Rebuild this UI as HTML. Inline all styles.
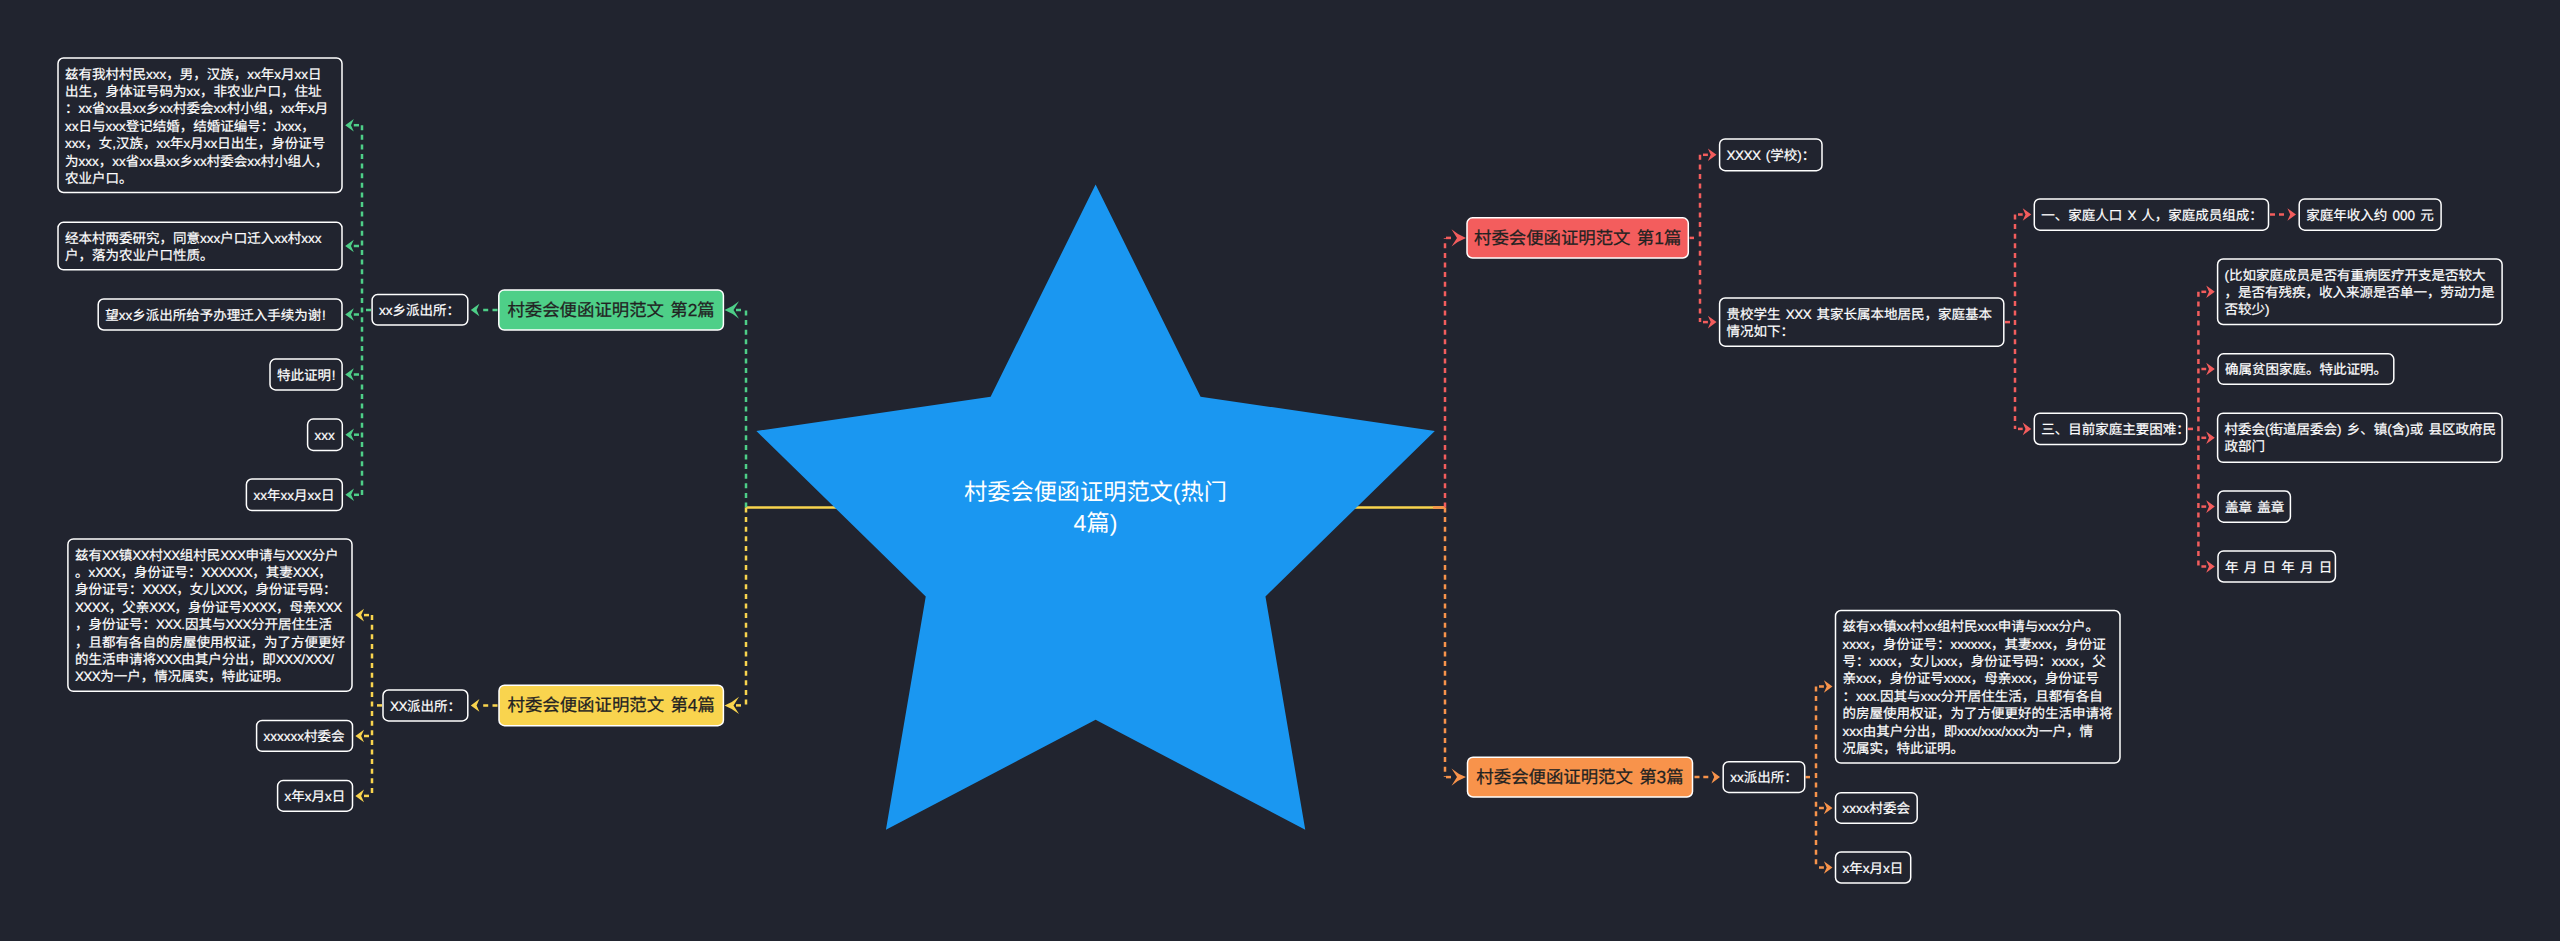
<!DOCTYPE html>
<html lang="zh-CN"><head><meta charset="utf-8"><title>村委会便函证明范文(热门4篇)</title>
<style>
html,body{margin:0;padding:0;}
body{width:2560px;height:941px;background:#21242f;position:relative;overflow:hidden;font-family:"Liberation Sans",sans-serif;text-rendering:geometricPrecision;}
svg.conn{position:absolute;left:0;top:0;}
.n{position:absolute;box-sizing:border-box;color:#fff;font-size:13.5px;line-height:17.4px;white-space:nowrap;word-spacing:1.5px;-webkit-text-stroke:0.2px #fff;}
.n.s{display:flex;align-items:center;padding-top:1.6px;}
.n.m{font-size:17.4px;color:#222;-webkit-text-stroke:0.25px #222;display:flex;align-items:center;justify-content:center;padding-top:1.2px;}
.n.t{}
.ex{margin-left:0.8px;}
.X{letter-spacing:-0.55px;}
.ctitle{position:absolute;left:895.5px;width:400px;top:477px;text-align:center;color:#fff;font-size:23.2px;line-height:31.3px;}
</style></head><body>
<svg class="conn" width="2560" height="941" viewBox="0 0 2560 941">

<path d="M746,507.5 L1445,507.5" fill="none" stroke="#f9d44e" stroke-width="2.5"/>
<path d="M1433,507.5 L1445,507.5" fill="none" stroke="#f8934b" stroke-width="2.5"/>
<path d="M746,507.5 L746,310" fill="none" stroke="#4ecf88" stroke-width="2.5" stroke-dasharray="5 4.6"/>
<path d="M741,310 L736,310" fill="none" stroke="#4ecf88" stroke-width="2.5"/>
<path d="M724.5,310 Q732.475,306.955 739.0,301.3 L733.5,310 L739.0,318.7 Q732.475,313.045 724.5,310 Z" fill="#4ecf88"/>
<path d="M746,507.5 L746,705.4" fill="none" stroke="#f9d44e" stroke-width="2.5" stroke-dasharray="5 4.6"/>
<path d="M741,705.4 L736,705.4" fill="none" stroke="#f9d44e" stroke-width="2.5"/>
<path d="M724.5,705.4 Q732.475,702.355 739.0,696.6999999999999 L733.5,705.4 L739.0,714.1 Q732.475,708.4449999999999 724.5,705.4 Z" fill="#f9d44e"/>
<path d="M1445,507.5 L1445,237.9" fill="none" stroke="#f35d5d" stroke-width="2.5" stroke-dasharray="5 4.6"/>
<path d="M1446,237.9 L1451,237.9" fill="none" stroke="#f35d5d" stroke-width="2.5"/>
<path d="M1466,237.9 Q1458.025,234.85500000000002 1451.5,229.20000000000002 L1457,237.9 L1451.5,246.6 Q1458.025,240.945 1466,237.9 Z" fill="#f35d5d"/>
<path d="M1445,507.5 L1445,777.1" fill="none" stroke="#f8934b" stroke-width="2.5" stroke-dasharray="5 4.6"/>
<path d="M1446,777.1 L1451,777.1" fill="none" stroke="#f8934b" stroke-width="2.5"/>
<path d="M1466,777.1 Q1458.025,774.0550000000001 1451.5,768.4 L1457,777.1 L1451.5,785.8000000000001 Q1458.025,780.145 1466,777.1 Z" fill="#f8934b"/>
<path d="M497.5,310 L482,310" fill="none" stroke="#4ecf88" stroke-width="2.5" stroke-dasharray="5 4.3"/>
<path d="M470.8,310 L479.40000000000003,303.7 L476.6,310 L479.40000000000003,316.3 Z" fill="#4ecf88"/>
<path d="M371,310 L366,310" fill="none" stroke="#4ecf88" stroke-width="2.5"/>
<path d="M362,125.2 L362,496" fill="none" stroke="#4ecf88" stroke-width="2.5" stroke-dasharray="5 4.6"/>
<path d="M359,125.2 L353.8,125.2" fill="none" stroke="#4ecf88" stroke-width="2.5"/>
<path d="M345.2,125.2 L353.8,118.9 L351.0,125.2 L353.8,131.5 Z" fill="#4ecf88"/>
<path d="M359,246 L353.8,246" fill="none" stroke="#4ecf88" stroke-width="2.5"/>
<path d="M345.2,246 L353.8,239.7 L351.0,246 L353.8,252.3 Z" fill="#4ecf88"/>
<path d="M359,314.5 L353.8,314.5" fill="none" stroke="#4ecf88" stroke-width="2.5"/>
<path d="M345.2,314.5 L353.8,308.2 L351.0,314.5 L353.8,320.8 Z" fill="#4ecf88"/>
<path d="M359,374.5 L353.8,374.5" fill="none" stroke="#4ecf88" stroke-width="2.5"/>
<path d="M345.2,374.5 L353.8,368.2 L351.0,374.5 L353.8,380.8 Z" fill="#4ecf88"/>
<path d="M359,434.7 L354.0,434.7" fill="none" stroke="#4ecf88" stroke-width="2.5"/>
<path d="M345.4,434.7 L354.0,428.4 L351.2,434.7 L354.0,441.0 Z" fill="#4ecf88"/>
<path d="M359,494.8 L354.0,494.8" fill="none" stroke="#4ecf88" stroke-width="2.5"/>
<path d="M345.4,494.8 L354.0,488.5 L351.2,494.8 L354.0,501.1 Z" fill="#4ecf88"/>
<path d="M497.5,705.4 L482,705.4" fill="none" stroke="#f9d44e" stroke-width="2.5" stroke-dasharray="5 4.3"/>
<path d="M470.8,705.4 L479.40000000000003,699.1 L476.6,705.4 L479.40000000000003,711.6999999999999 Z" fill="#f9d44e"/>
<path d="M382,705.4 L377,705.4" fill="none" stroke="#f9d44e" stroke-width="2.5"/>
<path d="M372,615.1 L372,797" fill="none" stroke="#f9d44e" stroke-width="2.5" stroke-dasharray="5 4.6"/>
<path d="M369,615.1 L364.0,615.1" fill="none" stroke="#f9d44e" stroke-width="2.5"/>
<path d="M355.4,615.1 L364.0,608.8000000000001 L361.2,615.1 L364.0,621.4 Z" fill="#f9d44e"/>
<path d="M369,736 L364.0,736" fill="none" stroke="#f9d44e" stroke-width="2.5"/>
<path d="M355.4,736 L364.0,729.7 L361.2,736 L364.0,742.3 Z" fill="#f9d44e"/>
<path d="M369,795.9 L364.0,795.9" fill="none" stroke="#f9d44e" stroke-width="2.5"/>
<path d="M355.4,795.9 L364.0,789.6 L361.2,795.9 L364.0,802.1999999999999 Z" fill="#f9d44e"/>
<path d="M1689.5,237.9 L1694,237.9" fill="none" stroke="#f35d5d" stroke-width="2.5"/>
<path d="M1700,154.8 L1700,322.1" fill="none" stroke="#f35d5d" stroke-width="2.5" stroke-dasharray="5 4.6"/>
<path d="M1703,154.8 L1707.9,154.8" fill="none" stroke="#f35d5d" stroke-width="2.5"/>
<path d="M1716.5,154.8 L1707.9,148.5 L1710.7,154.8 L1707.9,161.10000000000002 Z" fill="#f35d5d"/>
<path d="M1703,322.1 L1707.9,322.1" fill="none" stroke="#f35d5d" stroke-width="2.5"/>
<path d="M1716.5,322.1 L1707.9,315.8 L1710.7,322.1 L1707.9,328.40000000000003 Z" fill="#f35d5d"/>
<path d="M2005,322.1 L2010,322.1" fill="none" stroke="#f35d5d" stroke-width="2.5"/>
<path d="M2015,214.5 L2015,428.9" fill="none" stroke="#f35d5d" stroke-width="2.5" stroke-dasharray="5 4.6"/>
<path d="M2018,214.5 L2022.7,214.5" fill="none" stroke="#f35d5d" stroke-width="2.5"/>
<path d="M2031.3,214.5 L2022.7,208.2 L2025.5,214.5 L2022.7,220.8 Z" fill="#f35d5d"/>
<path d="M2018,428.9 L2022.7,428.9" fill="none" stroke="#f35d5d" stroke-width="2.5"/>
<path d="M2031.3,428.9 L2022.7,422.59999999999997 L2025.5,428.9 L2022.7,435.2 Z" fill="#f35d5d"/>
<path d="M2270,214.5 L2287,214.5" fill="none" stroke="#f35d5d" stroke-width="2.5" stroke-dasharray="5 4"/>
<path d="M2296,214.5 L2287.4,208.2 L2290.2,214.5 L2287.4,220.8 Z" fill="#f35d5d"/>
<path d="M2188,428.9 L2193,428.9" fill="none" stroke="#f35d5d" stroke-width="2.5"/>
<path d="M2198.4,291.8 L2198.4,567" fill="none" stroke="#f35d5d" stroke-width="2.5" stroke-dasharray="5 4.6"/>
<path d="M2201.4,291.8 L2206.2000000000003,291.8" fill="none" stroke="#f35d5d" stroke-width="2.5"/>
<path d="M2214.8,291.8 L2206.2000000000003,285.5 L2209.0,291.8 L2206.2000000000003,298.1 Z" fill="#f35d5d"/>
<path d="M2201.4,369 L2206.2000000000003,369" fill="none" stroke="#f35d5d" stroke-width="2.5"/>
<path d="M2214.8,369 L2206.2000000000003,362.7 L2209.0,369 L2206.2000000000003,375.3 Z" fill="#f35d5d"/>
<path d="M2201.4,437.8 L2206.2000000000003,437.8" fill="none" stroke="#f35d5d" stroke-width="2.5"/>
<path d="M2214.8,437.8 L2206.2000000000003,431.5 L2209.0,437.8 L2206.2000000000003,444.1 Z" fill="#f35d5d"/>
<path d="M2201.4,506.6 L2206.2000000000003,506.6" fill="none" stroke="#f35d5d" stroke-width="2.5"/>
<path d="M2214.8,506.6 L2206.2000000000003,500.3 L2209.0,506.6 L2206.2000000000003,512.9 Z" fill="#f35d5d"/>
<path d="M2201.4,566.5 L2206.2000000000003,566.5" fill="none" stroke="#f35d5d" stroke-width="2.5"/>
<path d="M2214.8,566.5 L2206.2000000000003,560.2 L2209.0,566.5 L2206.2000000000003,572.8 Z" fill="#f35d5d"/>
<path d="M1694.5,777.1 L1709,777.1" fill="none" stroke="#f8934b" stroke-width="2.5" stroke-dasharray="5 3.8"/>
<path d="M1720,777.1 L1711.4,770.8000000000001 L1714.2,777.1 L1711.4,783.4 Z" fill="#f8934b"/>
<path d="M1805.5,777.1 L1810,777.1" fill="none" stroke="#f8934b" stroke-width="2.5"/>
<path d="M1816,686.5 L1816,868" fill="none" stroke="#f8934b" stroke-width="2.5" stroke-dasharray="5 4.6"/>
<path d="M1819,686.5 L1823.9,686.5" fill="none" stroke="#f8934b" stroke-width="2.5"/>
<path d="M1832.5,686.5 L1823.9,680.2 L1826.7,686.5 L1823.9,692.8 Z" fill="#f8934b"/>
<path d="M1819,808 L1823.9,808" fill="none" stroke="#f8934b" stroke-width="2.5"/>
<path d="M1832.5,808 L1823.9,801.7 L1826.7,808 L1823.9,814.3 Z" fill="#f8934b"/>
<path d="M1819,867.5 L1823.9,867.5" fill="none" stroke="#f8934b" stroke-width="2.5"/>
<path d="M1832.5,867.5 L1823.9,861.2 L1826.7,867.5 L1823.9,873.8 Z" fill="#f8934b"/>
<path d="M1095.6,184.5 L1200.58,396.71 L1434.84,430.97 L1265.46,596.39 L1305.26,829.78 L1095.6,719.8 L885.94,829.78 L925.74,596.39 L756.36,430.97 L990.62,396.71 Z" fill="#1a97f1"/>
<rect x="58" y="58" width="284.00" height="134.50" rx="5.5" fill="#21242f" stroke="#fff" stroke-width="1.5"/>
<rect x="58" y="222.3" width="284.00" height="47.50" rx="5.5" fill="#21242f" stroke="#fff" stroke-width="1.5"/>
<rect x="98.2" y="299" width="243.80" height="31.00" rx="5.5" fill="#21242f" stroke="#fff" stroke-width="1.5"/>
<rect x="372.1" y="294.6" width="95.70" height="30.50" rx="5.5" fill="#21242f" stroke="#fff" stroke-width="1.5"/>
<rect x="498.8" y="289.9" width="224.60" height="40.20" rx="5.5" fill="#4ecf88" stroke="#fff" stroke-width="1.5"/>
<rect x="270" y="359.1" width="72.10" height="30.80" rx="5.5" fill="#21242f" stroke="#fff" stroke-width="1.5"/>
<rect x="307.6" y="419.1" width="34.70" height="31.30" rx="5.5" fill="#21242f" stroke="#fff" stroke-width="1.5"/>
<rect x="246.4" y="479" width="95.90" height="31.60" rx="5.5" fill="#21242f" stroke="#fff" stroke-width="1.5"/>
<rect x="67.9" y="538.9" width="284.10" height="152.40" rx="5.5" fill="#21242f" stroke="#fff" stroke-width="1.5"/>
<rect x="383" y="690" width="84.80" height="30.90" rx="5.5" fill="#21242f" stroke="#fff" stroke-width="1.5"/>
<rect x="499" y="685.2" width="224.40" height="40.50" rx="5.5" fill="#f9d44e" stroke="#fff" stroke-width="1.5"/>
<rect x="256.6" y="720.4" width="95.90" height="30.90" rx="5.5" fill="#21242f" stroke="#fff" stroke-width="1.5"/>
<rect x="277.6" y="780.6" width="74.90" height="30.60" rx="5.5" fill="#21242f" stroke="#fff" stroke-width="1.5"/>
<rect x="1467" y="217.8" width="221.30" height="40.20" rx="5.5" fill="#f35d5d" stroke="#fff" stroke-width="1.5"/>
<rect x="1719.6" y="138.9" width="102.40" height="31.80" rx="5.5" fill="#21242f" stroke="#fff" stroke-width="1.5"/>
<rect x="1719.6" y="298" width="284.20" height="48.20" rx="5.5" fill="#21242f" stroke="#fff" stroke-width="1.5"/>
<rect x="2034.3" y="198.9" width="234.20" height="31.30" rx="5.5" fill="#21242f" stroke="#fff" stroke-width="1.5"/>
<rect x="2299.2" y="198.9" width="141.90" height="31.30" rx="5.5" fill="#21242f" stroke="#fff" stroke-width="1.5"/>
<rect x="2034.3" y="413.2" width="152.40" height="31.30" rx="5.5" fill="#21242f" stroke="#fff" stroke-width="1.5"/>
<rect x="2217.6" y="259" width="284.50" height="65.50" rx="5.5" fill="#21242f" stroke="#fff" stroke-width="1.5"/>
<rect x="2218" y="353.8" width="175.80" height="30.50" rx="5.5" fill="#21242f" stroke="#fff" stroke-width="1.5"/>
<rect x="2217.6" y="413.2" width="284.50" height="49.10" rx="5.5" fill="#21242f" stroke="#fff" stroke-width="1.5"/>
<rect x="2218" y="491" width="72.40" height="31.20" rx="5.5" fill="#21242f" stroke="#fff" stroke-width="1.5"/>
<rect x="2218" y="550.9" width="117.40" height="31.10" rx="5.5" fill="#21242f" stroke="#fff" stroke-width="1.5"/>
<rect x="1467.5" y="757.2" width="225.00" height="39.80" rx="5.5" fill="#f8934b" stroke="#fff" stroke-width="1.5"/>
<rect x="1723.2" y="761.7" width="81.50" height="30.70" rx="5.5" fill="#21242f" stroke="#fff" stroke-width="1.5"/>
<rect x="1835.5" y="610.5" width="284.50" height="152.60" rx="5.5" fill="#21242f" stroke="#fff" stroke-width="1.5"/>
<rect x="1835.5" y="792.7" width="81.70" height="30.50" rx="5.5" fill="#21242f" stroke="#fff" stroke-width="1.5"/>
<rect x="1835.5" y="852" width="75.20" height="31.00" rx="5.5" fill="#21242f" stroke="#fff" stroke-width="1.5"/>
</svg>
<div class="ctitle">村委会便函证明范文(热门<br>4篇)</div>
<div class="n t" style="left:65px;top:65.60px;"><span>兹有我村村民xxx，男，汉族，xx年x月xx日<br>出生，身体证号码为xx，非农业户口，住址<br>：xx省xx县xx乡xx村委会xx村小组，xx年x月<br>xx日与xxx登记结婚，结婚证编号：Jxxx，<br>xxx，女,汉族，xx年x月xx日出生，身份证号<br>为xxx，xx省xx县xx乡xx村委会xx村小组人，<br>农业户口。</span></div>
<div class="n t" style="left:65px;top:229.90px;"><span>经本村两委研究，同意xxx户口迁入xx村xxx<br>户，落为农业户口性质。</span></div>
<div class="n s" style="left:105.2px;top:299px;height:31.00px;"><span>望xx乡派出所给予办理迁入手续为谢<span class=ex>!</span></span></div>
<div class="n s" style="left:379.1px;top:294.6px;height:30.50px;"><span>xx乡派出所：</span></div>
<div class="n m" style="left:498.8px;top:289.9px;width:224.60px;height:40.20px;"><span>村委会便函证明范文 第2篇</span></div>
<div class="n s" style="left:277px;top:359.1px;height:30.80px;"><span>特此证明<span class=ex>!</span></span></div>
<div class="n s" style="left:314.6px;top:419.1px;height:31.30px;"><span>xxx</span></div>
<div class="n s" style="left:253.4px;top:479px;height:31.60px;"><span>xx年xx月xx日</span></div>
<div class="n t" style="left:74.9px;top:546.50px;"><span>兹有<span class=X>XX</span>镇<span class=X>XX</span>村<span class=X>XX</span>组村民<span class=X>XXX</span>申请与<span class=X>XXX</span>分户<br>。x<span class=X>XXX</span>，身份证号：<span class=X>XXXXXX</span>，其妻<span class=X>XXX</span>，<br>身份证号：<span class=X>XXXX</span>，女儿<span class=X>XXX</span>，身份证号码：<br><span class=X>XXXX</span>，父亲<span class=X>XXX</span>，身份证号<span class=X>XXXX</span>，母亲<span class=X>XXX</span><br>，身份证号：<span class=X>XXX</span>.因其与<span class=X>XXX</span>分开居住生活<br>，且都有各自的房屋使用权证，为了方便更好<br>的生活申请将<span class=X>XXX</span>由其户分出，即<span class=X>XXX</span>/<span class=X>XXX</span>/<br><span class=X>XXX</span>为一户，情况属实，特此证明。</span></div>
<div class="n s" style="left:390px;top:690px;height:30.90px;"><span><span class=X>XX</span>派出所：</span></div>
<div class="n m" style="left:499px;top:685.2px;width:224.40px;height:40.50px;"><span>村委会便函证明范文 第4篇</span></div>
<div class="n s" style="left:263.6px;top:720.4px;height:30.90px;"><span>xxxxxx村委会</span></div>
<div class="n s" style="left:284.6px;top:780.6px;height:30.60px;"><span>x年x月x日</span></div>
<div class="n m" style="left:1467px;top:217.8px;width:221.30px;height:40.20px;"><span>村委会便函证明范文 第1篇</span></div>
<div class="n s" style="left:1726.6px;top:138.9px;height:31.80px;"><span><span class=X>XXXX</span> (学校)：</span></div>
<div class="n t" style="left:1726.6px;top:305.60px;"><span>贵校学生 <span class=X>XXX</span> 其家长属本地居民，家庭基本<br>情况如下：</span></div>
<div class="n s" style="left:2041.3px;top:198.9px;height:31.30px;"><span>一、家庭人口 <span class=X>X</span> 人，家庭成员组成：</span></div>
<div class="n s" style="left:2306.2px;top:198.9px;height:31.30px;"><span>家庭年收入约 000 元</span></div>
<div class="n s" style="left:2041.3px;top:413.2px;height:31.30px;"><span>三、目前家庭主要困难：</span></div>
<div class="n t" style="left:2224.6px;top:266.60px;"><span>(比如家庭成员是否有重病医疗开支是否较大<br>，是否有残疾，收入来源是否单一，劳动力是<br>否较少)</span></div>
<div class="n s" style="left:2225px;top:353.8px;height:30.50px;"><span>确属贫困家庭。特此证明。</span></div>
<div class="n t" style="left:2224.6px;top:420.80px;"><span>村委会(街道居委会) 乡、镇(含)或 县区政府民<br>政部门</span></div>
<div class="n s" style="left:2225px;top:491px;height:31.20px;"><span>盖章 盖章</span></div>
<div class="n s" style="left:2225px;top:550.9px;height:31.10px;"><span>年 月 日 年 月 日</span></div>
<div class="n m" style="left:1467.5px;top:757.2px;width:225.00px;height:39.80px;"><span>村委会便函证明范文 第3篇</span></div>
<div class="n s" style="left:1730.2px;top:761.7px;height:30.70px;"><span>xx派出所：</span></div>
<div class="n t" style="left:1842.5px;top:618.10px;"><span>兹有xx镇xx村xx组村民xxx申请与xxx分户。<br>xxxx，身份证号：xxxxxx，其妻xxx，身份证<br>号：xxxx，女儿xxx，身份证号码：xxxx，父<br>亲xxx，身份证号xxxx，母亲xxx，身份证号<br>：xxx.因其与xxx分开居住生活，且都有各自<br>的房屋使用权证，为了方便更好的生活申请将<br>xxx由其户分出，即xxx/xxx/xxx为一户，情<br>况属实，特此证明。</span></div>
<div class="n s" style="left:1842.5px;top:792.7px;height:30.50px;"><span>xxxx村委会</span></div>
<div class="n s" style="left:1842.5px;top:852px;height:31.00px;"><span>x年x月x日</span></div>
</body></html>
